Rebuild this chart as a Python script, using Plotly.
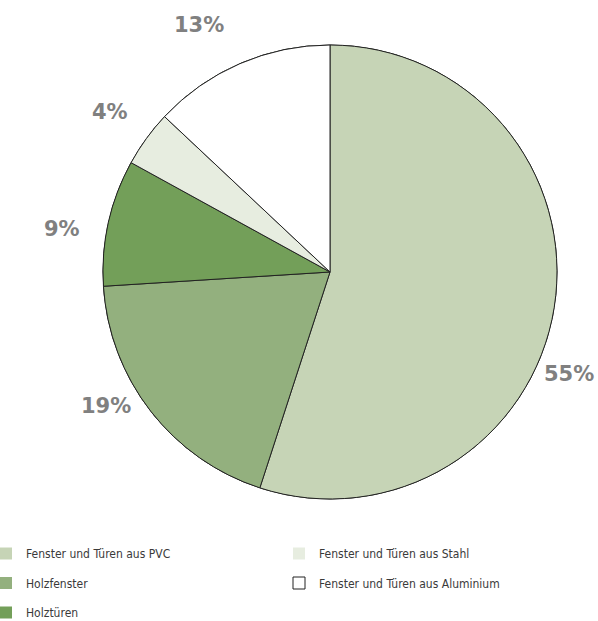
import math
import plotly.graph_objects as go

labels = ["Fenster und Türen aus PVC", "Holzfenster", "Holztüren",
          "Fenster und Türen aus Stahl", "Fenster und Türen aus Aluminium"]
values = [55, 19, 9, 4, 13]
colors = ["#c6d4b6", "#93b07e", "#739f59", "#e7ede0", "#ffffff"]
legend_of = ["legend", "legend", "legend", "legend2", "legend2"]

# placement of the outside percentage labels (angle nudge from slice middle, radius in px)
label_shift_deg = [14, 7, -3.5, 0, -4.5]
label_radius_px = [260, 261, 271, 272, 280]

W, H = 598, 621
cx, cy, r = 330, 272, 227
dom_x = [(cx - r) / W, (cx + r) / W]
dom_y = [1 - (cy + r) / H, 1 - (cy - r) / H]

fig = go.Figure()

# legend carriers (hidden underneath the main pie)
for i, (lab, val, col, lg) in enumerate(zip(labels, values, colors, legend_of)):
    is_white = col.lower() == "#ffffff"
    fig.add_trace(go.Pie(
        labels=[lab], values=[val], domain=dict(x=dom_x, y=dom_y),
        marker=dict(colors=[col], line=dict(color="#222222" if is_white else col,
                                             width=1 if is_white else 0)),
        textinfo="none", hoverinfo="skip", showlegend=True,
        legend=lg, legendgroup=f"g{i}", sort=False,
    ))

fig.add_trace(go.Pie(
    labels=labels, values=values, domain=dict(x=dom_x, y=dom_y),
    sort=False, direction="clockwise", rotation=0,
    marker=dict(colors=colors, line=dict(color="#222222", width=1)),
    textinfo="none", showlegend=False, hoverinfo="label+value",
))

# percentage labels outside the pie, positioned from each slice's middle angle
total = sum(values)
cum = 0
for v, sh, rad in zip(values, label_shift_deg, label_radius_px):
    mid = (cum + v / 2) / total * 360
    cum += v
    a = math.radians(mid + sh)
    px = cx + rad * math.sin(a)
    py = cy - rad * math.cos(a)
    fig.add_annotation(
        x=px / W, y=1 - py / H, xref="paper", yref="paper",
        text=f"{v}%", showarrow=False, xanchor="center", yanchor="middle",
        font=dict(family="DejaVu Sans, sans-serif", size=21, color="#808080",
                  weight="bold"),
    )

legend_font = dict(family="DejaVu Sans Condensed, Liberation Sans Narrow, sans-serif",
                   size=12, color="#3a3a3a")
fig.update_layout(
    width=W, height=H,
    margin=dict(l=0, r=0, t=0, b=0, autoexpand=False),
    paper_bgcolor="white", plot_bgcolor="white",
    legend=dict(x=-14 / W, y=1 - 539 / H, xanchor="left", yanchor="top",
                font=legend_font, tracegroupgap=10.5, traceorder="grouped",
                bgcolor="rgba(0,0,0,0)"),
    legend2=dict(x=279 / W, y=1 - 539 / H, xanchor="left", yanchor="top",
                 font=legend_font, tracegroupgap=10.5, traceorder="grouped",
                 bgcolor="rgba(0,0,0,0)"),
)

fig.write_html("out.html", config={"displayModeBar": False},
               post_script="document.body.style.margin='0';document.body.style.overflow='hidden';")
